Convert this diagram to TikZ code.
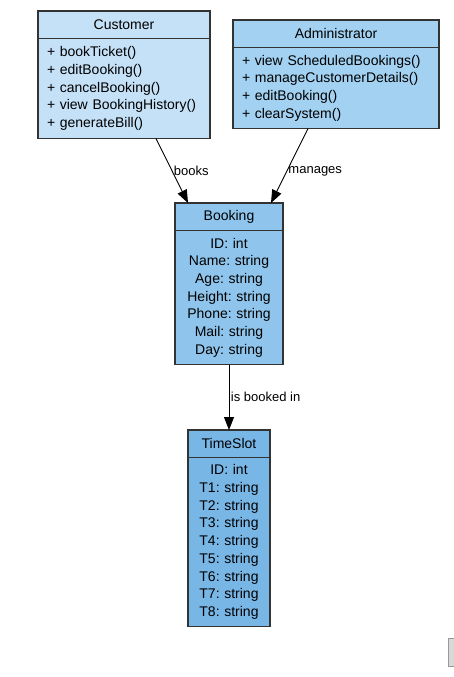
\documentclass[tikz,border=0pt]{standalone}
\usepackage{fontspec}
\setmainfont{Liberation Sans}
\usetikzlibrary{positioning,arrows.meta}
\definecolor{custblue}{HTML}{C5E1F8}
\definecolor{adminblue}{HTML}{A2D1F1}
\definecolor{bookblue}{HTML}{8FC5EC}
\definecolor{slotblue}{HTML}{78B6E6}
\definecolor{boxline}{HTML}{333333}
\frenchspacing
\tikzset{
  clshead/.style={draw=boxline, line width=1.2pt, inner sep=0pt, outer sep=0pt, minimum height=27.5pt,
    font=\fontsize{14}{17.7}\selectfont},
  clsbody/.style={draw=boxline, line width=1.2pt, inner xsep=9pt, inner ysep=0pt, outer sep=0pt,
    font=\fontsize{14}{17.7}\selectfont},
  rel/.style={-{Triangle[length=13pt,width=10pt]}, line width=0.9pt},
  rellabel/.style={right, inner sep=1.5pt, font=\fontsize{13}{15}\selectfont}
}
\begin{document}
\begin{tikzpicture}[x=1pt, y=-1pt]
  \useasboundingbox (0,0) rectangle (453,677);

  % 1. classes
  \node[clshead, fill=custblue, minimum width=172pt, anchor=north west] (customer) at (38,11) {Customer};
  \node[clsbody, fill=custblue, text width=154pt, minimum height=100pt, align=left,
    below=0pt of customer] (customer-body)
    {+ bookTicket()\\+ editBooking()\\+ cancelBooking()\\+ view BookingHistory()\\+ generateBill()};

  \node[clshead, fill=adminblue, minimum width=206pt, anchor=north west] (admin) at (233,20) {Administrator};
  \node[clsbody, fill=adminblue, text width=188pt, minimum height=81pt, align=left,
    below=0pt of admin] (admin-body)
    {+ view ScheduledBookings()\\+ manageCustomerDetails()\\+ editBooking()\\+ clearSystem()};

  \node[clshead, fill=bookblue, minimum width=108pt, anchor=north west] (booking) at (175,203) {Booking};
  \node[clsbody, fill=bookblue, text width=90pt, minimum height=134pt, align=center,
    below=0pt of booking] (booking-body)
    {ID: int\\Name: string\\Age: string\\Height: string\\Phone: string\\Mail: string\\Day: string};

  \node[clshead, fill=slotblue, minimum width=82pt, anchor=north west] (timeslot) at (188,430) {TimeSlot};
  \node[clsbody, fill=slotblue, text width=64pt, minimum height=169pt, align=center,
    below=0pt of timeslot] (timeslot-body)
    {ID: int\\T1: string\\T2: string\\T3: string\\T4: string\\T5: string\\T6: string\\T7: string\\T8: string};

  % 2. relations
  \draw[rel] ([xshift=32pt]customer-body.south) -- ([xshift=-41pt]booking.north)
    node[rellabel, pos=0.5] {books};
  \draw[rel] ([xshift=-28pt]admin-body.south) -- ([xshift=42pt]booking.north)
    node[rellabel, pos=0.58] {manages};
  \draw[rel] (booking-body.south) -- (timeslot.north)
    node[rellabel, pos=0.5] {is booked in};

  % scrollbar stub
  \draw[fill=black!15, draw=black!40] (448.5,638) rectangle (454,666);
\end{tikzpicture}
\end{document}
